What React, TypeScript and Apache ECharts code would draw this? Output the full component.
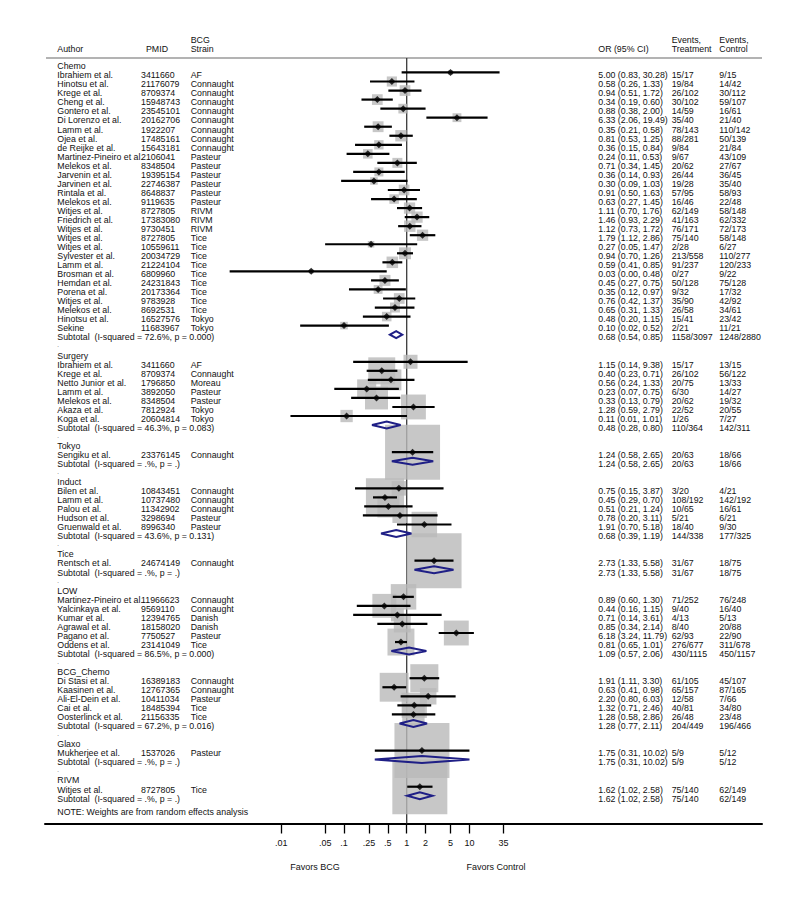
import React, { useEffect, useRef } from "react";
import * as echarts from "echarts";

// ---------- DATA ----------
const groupNames = ["Chemo", "Surgery", "Tokyo", "Induct", "Tice", "LOW", "BCG_Chemo", "Glaxo", "RIVM"];

const authors = [
  "Ibrahiem et al.", "Hinotsu et al.", "Krege et al.", "Cheng et al.", "Gontero et al.", "Di Lorenzo et al.",
  "Lamm et al.", "Ojea et al.", "de Reijke et al.", "Martinez-Pineiro et al.", "Melekos et al.", "Jarvenin et al.",
  "Jarvinen et al.", "Rintala et al.", "Melekos et al.", "Witjes et al.", "Friedrich et al.", "Witjes et al.",
  "Witjes et al.", "Witjes et al.", "Sylvester et al.", "Lamm et al.", "Brosman et al.", "Hemdan et al.",
  "Porena et al.", "Witjes et al.", "Melekos et al.", "Hinotsu et al.", "Sekine",
  "Ibrahiem et al.", "Krege et al.", "Netto Junior et al.", "Lamm et al.", "Melekos et al.", "Akaza et al.", "Koga et al.",
  "Sengiku et al.",
  "Bilen et al.", "Lamm et al.", "Palou et al.", "Hudson et al.", "Gruenwald et al.",
  "Rentsch et al.",
  "Martinez-Pineiro et al.", "Yalcinkaya et al.", "Kumar et al.", "Agrawal et al.", "Pagano et al.", "Oddens et al.",
  "Di Stasi et al.", "Kaasinen et al.", "Ali-El-Dein et al.", "Cai et al.", "Oosterlinck et al.",
  "Mukherjee et al.",
  "Witjes et al.",
];

const pmids = [
  "3411660", "21176079", "8709374", "15948743", "23545101", "20162706",
  "1922207", "17485161", "15643181", "2106041", "8348504", "19395154",
  "22746387", "8648837", "9119635", "8727805", "17383080", "9730451",
  "8727805", "10559611", "20034729", "21224104", "6809960", "24231843",
  "20173364", "9783928", "8692531", "16527576", "11683967",
  "3411660", "8709374", "1796850", "3892050", "8348504", "7812924", "20604814",
  "23376145",
  "10843451", "10737480", "11342902", "3298694", "8996340",
  "24674149",
  "11966623", "9569110", "12394765", "18158020", "7750527", "23141049",
  "16389183", "12767365", "10411034", "18485394", "21156335",
  "1537026",
  "8727805",
];

const strains = [
  "AF", "Connaught", "Connaught", "Connaught", "Connaught", "Connaught",
  "Connaught", "Connaught", "Connaught", "Pasteur", "Pasteur", "Pasteur",
  "Pasteur", "Pasteur", "Pasteur", "RIVM", "RIVM", "RIVM",
  "Tice", "Tice", "Tice", "Tice", "Tice", "Tice",
  "Tice", "Tice", "Tice", "Tokyo", "Tokyo",
  "AF", "Connaught", "Moreau", "Pasteur", "Pasteur", "Tokyo", "Tokyo",
  "Connaught",
  "Connaught", "Connaught", "Connaught", "Pasteur", "Pasteur",
  "Connaught",
  "Connaught", "Connaught", "Danish", "Danish", "Pasteur", "Tice",
  "Connaught", "Connaught", "Pasteur", "Tice", "Tice",
  "Pasteur",
  "Tice",
];

const groupOf = [
  0, 0, 0, 0, 0, 0, 0, 0, 0, 0, 0, 0, 0, 0, 0, 0, 0, 0, 0, 0, 0, 0, 0, 0, 0, 0, 0, 0, 0,
  1, 1, 1, 1, 1, 1, 1,
  2,
  3, 3, 3, 3, 3,
  4,
  5, 5, 5, 5, 5, 5,
  6, 6, 6, 6, 6,
  7,
  8,
];

const orVals = [
  5.00, 0.58, 0.94, 0.34, 0.88, 6.33, 0.35, 0.81, 0.36, 0.24, 0.71, 0.36, 0.30, 0.91, 0.63,
  1.11, 1.46, 1.12, 1.79, 0.27, 0.94, 0.59, 0.03, 0.45, 0.35, 0.76, 0.65, 0.48, 0.10,
  1.15, 0.40, 0.56, 0.23, 0.33, 1.28, 0.11,
  1.24,
  0.75, 0.45, 0.51, 0.78, 1.91,
  2.73,
  0.89, 0.44, 0.71, 0.85, 6.18, 0.81,
  1.91, 0.63, 2.20, 1.32, 1.28,
  1.75,
  1.62,
];

const ciLow = [
  0.83, 0.26, 0.51, 0.19, 0.38, 2.06, 0.21, 0.53, 0.15, 0.11, 0.34, 0.14, 0.09, 0.50, 0.27,
  0.70, 0.93, 0.73, 1.12, 0.05, 0.70, 0.41, 0.0015, 0.27, 0.12, 0.42, 0.31, 0.20, 0.02,
  0.14, 0.23, 0.24, 0.07, 0.13, 0.59, 0.014,
  0.58,
  0.15, 0.29, 0.21, 0.20, 0.70,
  1.33,
  0.60, 0.16, 0.14, 0.34, 3.24, 0.65,
  1.11, 0.41, 0.80, 0.71, 0.58,
  0.31,
  1.02,
];

const ciHigh = [
  30.28, 1.33, 1.72, 0.60, 2.00, 19.49, 0.58, 1.25, 0.84, 0.53, 1.45, 0.93, 1.03, 1.63, 1.45,
  1.76, 2.29, 1.72, 2.86, 1.47, 1.26, 0.85, 0.48, 0.75, 0.97, 1.37, 1.33, 1.15, 0.52,
  9.38, 0.71, 1.33, 0.75, 0.79, 2.79, 1.01,
  2.65,
  3.87, 0.70, 1.24, 3.11, 5.18,
  5.58,
  1.30, 1.15, 3.61, 2.14, 11.79, 1.01,
  3.30, 0.98, 6.03, 2.46, 2.86,
  10.02,
  2.58,
];

const eventsT = [
  "15/17", "19/84", "26/102", "30/102", "14/59", "35/40", "78/143", "88/281", "9/84", "9/67", "20/62", "26/44",
  "19/28", "57/95", "16/46", "62/149", "41/163", "76/171", "75/140", "2/28", "213/558", "91/237", "0/27", "50/128",
  "9/32", "35/90", "26/58", "15/41", "2/21",
  "15/17", "26/102", "20/75", "6/30", "20/62", "22/52", "1/26",
  "20/63",
  "3/20", "108/192", "10/65", "5/21", "18/40",
  "31/67",
  "71/252", "9/40", "4/13", "8/40", "62/93", "276/677",
  "61/105", "65/157", "12/58", "40/81", "26/48",
  "5/9",
  "75/140",
];

const eventsC = [
  "9/15", "14/42", "30/112", "59/107", "16/61", "21/40", "110/142", "50/139", "21/84", "43/109", "27/67", "36/45",
  "35/40", "58/93", "22/48", "58/148", "62/332", "72/173", "58/148", "6/27", "110/277", "120/233", "9/22", "75/128",
  "17/32", "42/92", "34/61", "23/42", "11/21",
  "13/15", "56/122", "13/33", "14/27", "19/32", "20/55", "7/27",
  "18/66",
  "4/21", "142/192", "16/61", "6/21", "9/30",
  "18/75",
  "76/248", "16/40", "5/13", "20/88", "22/90", "311/678",
  "45/107", "87/165", "7/66", "34/80", "23/48",
  "5/12",
  "62/149",
];

// random-effects weights (%) within each subgroup
const weights = [
  0.8, 3.4, 3.8, 3.8, 3.1, 2.6, 3.9, 4.3, 2.9, 3.0, 3.3, 2.7, 1.9, 3.8, 3.0,
  4.2, 4.2, 4.3, 4.2, 1.4, 4.7, 4.4, 0.7, 4.0, 2.6, 3.8, 3.3, 3.0, 1.9,
  6.5, 24, 14.5, 12, 17.5, 20.5, 5,
  100,
  7, 48, 16, 7.5, 21.5,
  100,
  21.5, 19, 5.5, 9.5, 20.5, 24,
  26, 27.5, 9, 21, 16.5,
  100,
  100,
];

const subI2 = [72.6, 46.3, null, 43.6, null, 86.5, 67.2, null, null];
const subP = [0.0, 0.083, null, 0.131, null, 0.0, 0.016, null, null];
const subOr = [0.68, 0.48, 1.24, 0.68, 2.73, 1.09, 1.28, 1.75, 1.62];
const subLow = [0.54, 0.28, 0.58, 0.39, 1.33, 0.57, 0.77, 0.31, 1.02];
const subHigh = [0.85, 0.80, 2.65, 1.19, 5.58, 2.06, 2.11, 10.02, 2.58];
const subEventsT = ["1158/3097", "110/364", "20/63", "144/338", "31/67", "430/1115", "204/449", "5/9", "75/140"];
const subEventsC = ["1248/2880", "142/311", "18/66", "177/325", "18/75", "450/1157", "196/466", "5/12", "62/149"];

const tickValues = [0.01, 0.05, 0.1, 0.25, 0.5, 1, 2, 5, 10, 35];
const tickLabels = [".01", ".05", ".1", ".25", ".5", "1", "2", "5", "10", "35"];

// ---------- LAYOUT / STYLE ----------
const W = 800;
const H = 910;
const FONT = "'Liberation Sans', Arial, Helvetica, sans-serif";
const FS = 8.8;
const TXT = "#111111";
const BOX_COLOR = "#b9b9b9";
const DIAMOND_COLOR = "#1f1f86";
const BOX_FULL = 55;
const GRID_L = 45;
const GRID_R = 762;
const GRID_T = 58;
const GRID_B = 823.5;
const X_ONE = 406.7;
const PX_PER_DECADE = 62.7;
const X_MIN = Math.pow(10, (GRID_L - X_ONE) / PX_PER_DECADE);
const X_MAX = Math.pow(10, (GRID_R - X_ONE) / PX_PER_DECADE);
const Y_MIN = -0.6;
const Y_MAX = 84.07;
const TEXT_DY = 2.8;
const COL = { author: 57.3, pmid: 141, strain: 190.7, or: 598.3, evT: 671.7, evC: 719.3 };

type Row = { kind: "header" | "study" | "subtotal" | "spacer"; row: number; idx: number };

function buildRows(): Row[] {
  const rows: Row[] = [];
  let r = 0;
  groupNames.forEach((_, gi) => {
    if (gi > 0) rows.push({ kind: "spacer", row: r++, idx: gi });
    rows.push({ kind: "header", row: r++, idx: gi });
    authors.forEach((_a, si) => {
      if (groupOf[si] === gi) rows.push({ kind: "study", row: r++, idx: si });
    });
    rows.push({ kind: "subtotal", row: r++, idx: gi });
  });
  return rows;
}

const ciText = (o: number, l: number, h: number) => `${o.toFixed(2)} (${l.toFixed(2)}, ${h.toFixed(2)})`;
const subLabel = (gi: number) => {
  const i2 = subI2[gi] === null ? "." : (subI2[gi] as number).toFixed(1);
  const p = subP[gi] === null ? "." : (subP[gi] as number).toFixed(3);
  return `Subtotal\u00a0\u00a0(I-squared = ${i2}%, p = ${p})`;
};

export default function App() {
  const ref = useRef<HTMLDivElement>(null);

  useEffect(() => {
    if (!ref.current) return;
    const chart = echarts.init(ref.current, undefined, { renderer: "svg" });
    const rows = buildRows();
    const studyRows = rows.filter((r) => r.kind === "study");
    const subRows = rows.filter((r) => r.kind === "subtotal");

    const txt = (x: number, y: number, s: string, fs: number = FS) => ({
      type: "text",
      x,
      y,
      style: { text: s, fill: TXT, fontSize: fs, fontFamily: FONT, align: "left", verticalAlign: "middle" },
    });

    const option: any = {
      animation: false,
      backgroundColor: "#fff",
      grid: { left: GRID_L, right: W - GRID_R, top: GRID_T, bottom: H - GRID_B },
      xAxis: {
        type: "log",
        logBase: 10,
        min: X_MIN,
        max: X_MAX,
        axisLine: { show: true, onZero: false, lineStyle: { color: "#000", width: 2 } },
        axisTick: { show: true, customValues: tickValues, length: 10, lineStyle: { color: "#000", width: 1.3 } },
        axisLabel: {
          customValues: tickValues,
          margin: 15,
          fontSize: 9,
          fontFamily: FONT,
          color: TXT,
          formatter: (v: number) => {
            let best = 0;
            tickValues.forEach((t, i) => {
              if (Math.abs(Math.log10(t) - Math.log10(v)) < Math.abs(Math.log10(tickValues[best]) - Math.log10(v))) best = i;
            });
            return tickLabels[best];
          },
        },
        splitLine: { show: false },
        minorTick: { show: false },
      },
      yAxis: { type: "value", inverse: true, min: Y_MIN, max: Y_MAX, show: false },
      graphic: [
        { type: "line", shape: { x1: 46, y1: GRID_T, x2: GRID_R, y2: GRID_T }, style: { stroke: "#b3b3b3", lineWidth: 2 } },
        ...[
          [COL.author, 48.7, "Author"],
          [146, 48.7, "PMID"],
          [COL.strain, 39.7, "BCG"],
          [COL.strain, 48.7, "Strain"],
          [COL.or, 48.7, "OR (95% CI)"],
          [COL.evT, 39.7, "Events,"],
          [COL.evT, 48.7, "Treatment"],
          [COL.evC, 39.7, "Events,"],
          [COL.evC, 48.7, "Control"],
          [COL.author, 811.7, "NOTE: Weights are from random effects analysis"],
        ].map(([x, y, s]) => txt(x as number, y as number, s as string)),
        {
          type: "text",
          x: 315,
          y: 867,
          style: { text: "Favors BCG", fill: TXT, fontSize: 9, fontFamily: FONT, align: "center", verticalAlign: "middle" },
        },
        {
          type: "text",
          x: 496,
          y: 867,
          style: { text: "Favors Control", fill: TXT, fontSize: 9, fontFamily: FONT, align: "center", verticalAlign: "middle" },
        },
      ],
      series: [
        // reference line at OR = 1
        {
          type: "custom",
          silent: true,
          z: 1,
          data: [[1, Y_MIN, Y_MAX]],
          encode: { x: 0, y: [1, 2] },
          renderItem: (_p: any, api: any) => {
            const a = api.coord([api.value(0), api.value(1)]);
            const b = api.coord([api.value(0), api.value(2)]);
            return {
              type: "line",
              shape: { x1: a[0], y1: a[1], x2: b[0], y2: b[1] },
              style: { stroke: "#3a3a3a", lineWidth: 1.3 },
            };
          },
        },
        // weight boxes
        {
          type: "scatter",
          silent: true,
          z: 2,
          clip: false,
          symbol: "rect",
          data: studyRows.map((r) => [orVals[r.idx], r.row, weights[r.idx]]),
          symbolSize: (v: number[]) => BOX_FULL * Math.sqrt(v[2] / 100),
          itemStyle: { color: BOX_COLOR },
        },
        // confidence intervals
        {
          type: "custom",
          silent: true,
          z: 3,
          data: studyRows.map((r) => [ciLow[r.idx], ciHigh[r.idx], r.row]),
          encode: { x: [0, 1], y: 2 },
          renderItem: (_p: any, api: any) => {
            const a = api.coord([api.value(0), api.value(2)]);
            const b = api.coord([api.value(1), api.value(2)]);
            return {
              type: "line",
              shape: { x1: a[0], y1: a[1], x2: b[0], y2: b[1] },
              style: { stroke: "#000", lineWidth: 2.2 },
            };
          },
        },
        // point estimates
        {
          type: "scatter",
          silent: true,
          z: 4,
          symbol: "diamond",
          symbolSize: 7,
          data: studyRows.map((r) => [orVals[r.idx], r.row]),
          itemStyle: { color: "#000" },
        },
        // subtotal diamonds
        {
          type: "custom",
          silent: true,
          z: 4,
          data: subRows.map((r) => [subLow[r.idx], subOr[r.idx], subHigh[r.idx], r.row]),
          encode: { x: [0, 1, 2], y: 3 },
          renderItem: (_p: any, api: any) => {
            const l = api.coord([api.value(0), api.value(3)]);
            const m = api.coord([api.value(1), api.value(3)]);
            const h = api.coord([api.value(2), api.value(3)]);
            const hh = 3.5;
            return {
              type: "polygon",
              shape: { points: [[l[0], l[1]], [m[0], m[1] - hh], [h[0], h[1]], [m[0], m[1] + hh]] },
              style: { fill: "none", stroke: DIAMOND_COLOR, lineWidth: 2 },
            };
          },
        },
        // table text
        {
          type: "custom",
          silent: true,
          z: 5,
          data: rows.map((r) => [1, r.row]),
          encode: { x: 0, y: 1 },
          renderItem: (p: any, api: any) => {
            const r = rows[p.dataIndex];
            const y = api.coord([1, r.row])[1] + TEXT_DY;
            const children: any[] = [];
            if (r.kind === "spacer") {
              children.push(txt(COL.author, y - 1, ".", 6));
            } else if (r.kind === "header") {
              children.push(txt(COL.author, y, groupNames[r.idx]));
            } else if (r.kind === "study") {
              const i = r.idx;
              children.push(txt(COL.author, y, authors[i]));
              children.push(txt(COL.pmid, y, pmids[i]));
              children.push(txt(COL.strain, y, strains[i]));
              children.push(txt(COL.or, y, ciText(orVals[i], ciLow[i], ciHigh[i])));
              children.push(txt(COL.evT, y, eventsT[i]));
              children.push(txt(COL.evC, y, eventsC[i]));
            } else {
              const g = r.idx;
              children.push(txt(COL.author, y, subLabel(g)));
              children.push(txt(COL.or, y, ciText(subOr[g], subLow[g], subHigh[g])));
              children.push(txt(COL.evT, y, subEventsT[g]));
              children.push(txt(COL.evC, y, subEventsC[g]));
            }
            return { type: "group", children };
          },
        },
      ],
    };

    chart.setOption(option);
    return () => chart.dispose();
  }, []);

  return <div ref={ref} style={{ position: "absolute", left: 0, top: 0, width: W, height: H, background: "#fff" }} />;
}
